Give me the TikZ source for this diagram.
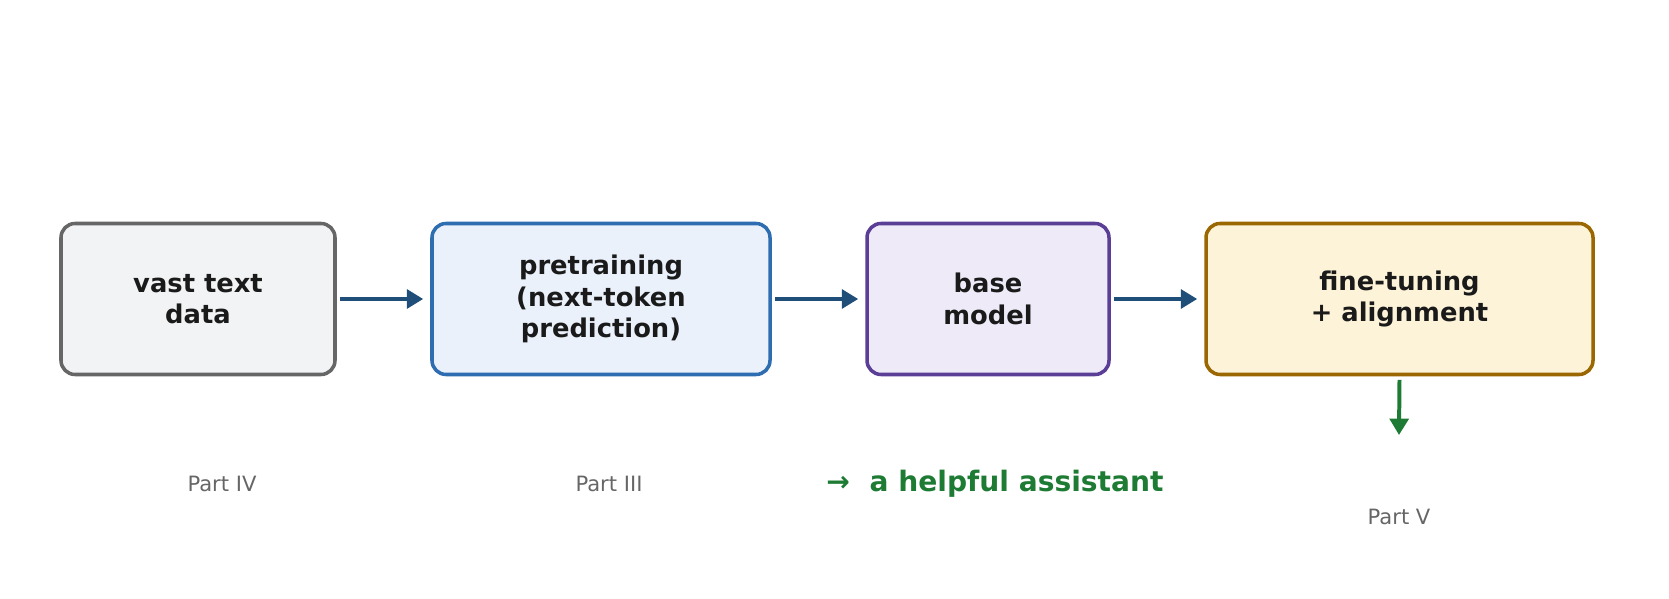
\documentclass[tikz,border=0pt]{standalone}
\usepackage{fontspec}
\setmainfont{DejaVu Sans}
\usetikzlibrary{arrows.meta}
\definecolor{tx}{HTML}{1A1A1A}
\definecolor{gr}{HTML}{666666}
\definecolor{ar}{HTML}{1F4E79}
\definecolor{gn}{HTML}{1E7B34}
\begin{document}
\begin{tikzpicture}[x=0.03cm,y=-0.03cm,
  box/.style={rounded corners=12pt,line width=3pt,align=center,font=\bfseries\fontsize{22}{27}\selectfont,text=tx},
  conn/.style={line width=3.4pt,-{Triangle[length=14pt,width=16pt]}},
  lab/.style={font=\fontsize{18}{22}\selectfont,text=gr}]
\path[use as bounding box] (0,0) rectangle (1669,599);
\node[box,draw=gr,fill={rgb,255:red,242;green,243;blue,245},minimum width=274*0.03cm,minimum height=151*0.03cm] (a) at (198,299) {vast text\\data};
\node[box,draw={rgb,255:red,46;green,109;blue,176},fill={rgb,255:red,234;green,241;blue,251},minimum width=338*0.03cm,minimum height=151*0.03cm] (b) at (601,299) {pretraining\\(next-token\\prediction)};
\node[box,draw={rgb,255:red,91;green,62;blue,150},fill={rgb,255:red,238;green,234;blue,248},minimum width=242*0.03cm,minimum height=151*0.03cm] (c) at (988,299) {base\\model};
\node[box,draw={rgb,255:red,154;green,103;blue,0},fill={rgb,255:red,253;green,243;blue,216},minimum width=387*0.03cm,minimum height=151*0.03cm] (d) at (1399.5,299) {fine-tuning\\+ alignment};
\draw[conn,ar] (a.east) ++(3,0) -- ([xshift=-6]b.west);
\draw[conn,ar] (b.east) ++(3,0) -- ([xshift=-6]c.west);
\draw[conn,ar] (c.east) ++(3,0) -- ([xshift=-6]d.west);
\coordinate (e) at (1399,435);
\draw[conn,gn] ([yshift=-3]d.south) -- (e);
\node[lab] (p4) at (222,484) {Part IV};
\node[lab] (p3) at (609,484) {Part III};
\node[lab] (p5) at (1399,517) {Part V};
\node[font=\bfseries\fontsize{24}{28}\selectfont,text=gn] (h) at (995,484) {→\ \ a helpful assistant};
\end{tikzpicture}
\end{document}
